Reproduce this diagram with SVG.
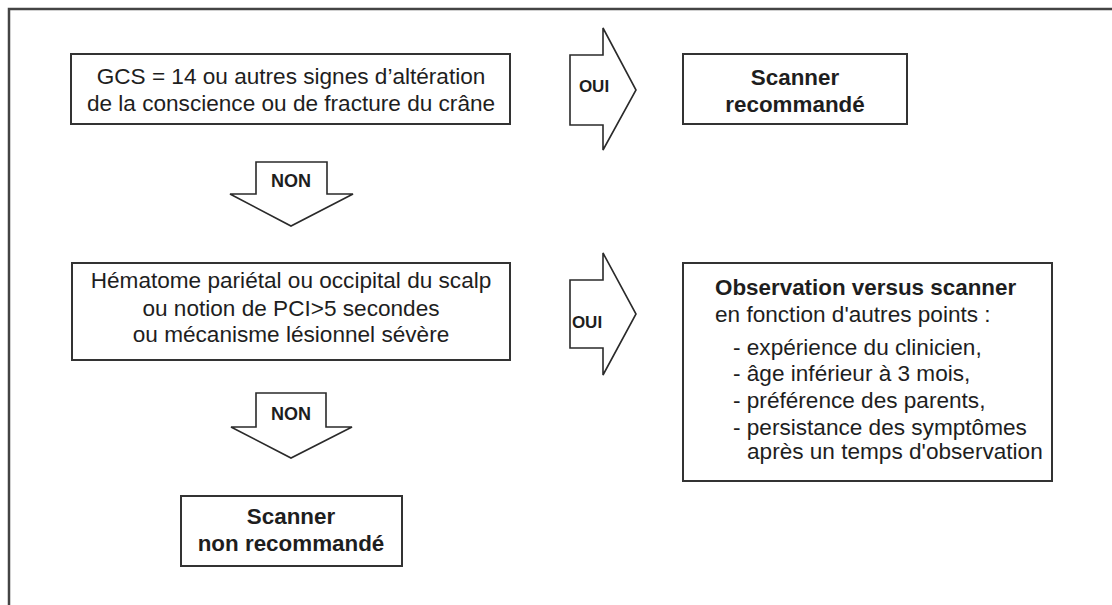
<svg xmlns="http://www.w3.org/2000/svg" width="1112" height="605" viewBox="0 0 1112 605">
<style>
.box{fill:#fff;stroke:#333;stroke-width:2}
.arr{fill:#fff;stroke:#2a2a2a;stroke-width:1.6;stroke-linejoin:miter}
text{font-family:"Liberation Sans",Arial,sans-serif;fill:#1e1e1e}
.t{font-size:22.6px}
.b{font-size:22.4px;font-weight:bold}
.lbl{font-size:17px;font-weight:bold}
.n{font-size:18px;font-weight:bold}
.c{text-anchor:middle}
</style>
<rect x="0" y="0" width="1112" height="605" fill="#fff"/>
<rect x="9" y="9" width="1120" height="620" fill="none" stroke="#444" stroke-width="2.5"/>
<g id="connectors">
<g id="oui1"><polygon class="arr" points="570,55 603,55 603,28 636,90 603,150 603,125 570,125"/><text class="lbl c" x="594" y="92">OUI</text></g>
<g id="non1"><polygon class="arr" points="256,162 327,162 327,194 353,194 291,226 230,194 256,194"/><text class="n c" x="291" y="187">NON</text></g>
<g id="oui2"><polygon class="arr" points="570,280 603,280 603,253 636,314 603,375 603,348 570,348"/><text class="lbl c" x="587" y="328">OUI</text></g>
<g id="non2"><polygon class="arr" points="256,393 326,393 326,427 352,427 291,458 231,427 256,427"/><text class="n c" x="291" y="420">NON</text></g>
</g>
<g id="q1"><rect class="box" x="71" y="54" width="439" height="70"/>
<text class="t c" x="291" y="84">GCS = 14 ou autres signes d’altération</text>
<text class="t c" x="291" y="111">de la conscience ou de fracture du crâne</text></g>
<g id="scanner"><rect class="box" x="683" y="54" width="224" height="70"/>
<text class="b c" x="795" y="85">Scanner</text>
<text class="b c" x="795" y="112">recommandé</text></g>
<g id="q2"><rect class="box" x="72" y="263" width="438" height="97"/>
<text class="t c" x="291" y="288">Hématome pariétal ou occipital du scalp</text>
<text class="t c" x="291" y="316">ou notion de PCI&gt;5 secondes</text>
<text class="t c" x="291" y="342">ou mécanisme lésionnel sévère</text></g>
<g id="observation"><rect class="box" x="683" y="263" width="369" height="218"/>
<text class="b" x="715" y="295">Observation versus scanner</text>
<text class="t" x="715" y="322">en fonction d'autres points :</text>
<text class="t" x="733" y="355">- expérience du clinicien,</text>
<text class="t" x="733" y="381">- âge inférieur à 3 mois,</text>
<text class="t" x="733" y="408">- préférence des parents,</text>
<text class="t" x="733" y="435">- persistance des symptômes</text>
<text class="t" x="747" y="459">après un temps d'observation</text></g>
<g id="noscanner"><rect class="box" x="181" y="496" width="221" height="70"/>
<text class="b c" x="291" y="524">Scanner</text>
<text class="b c" x="291" y="551">non recommandé</text></g>
</svg>
